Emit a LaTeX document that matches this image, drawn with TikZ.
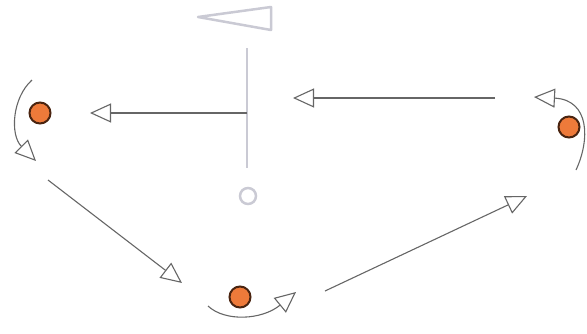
\documentclass[tikz,border=0pt]{standalone}
\usetikzlibrary{arrows.meta}
\definecolor{dotfill}{HTML}{EE7A3A}
\definecolor{dotedge}{HTML}{4A2410}
\definecolor{arr}{HTML}{666666}
\definecolor{faint}{HTML}{CACAD4}
\tikzset{
  dotnode/.style={circle, draw=dotedge, fill=dotfill, line width=2pt, minimum size=21pt, inner sep=0pt},
  conn/.style={draw=arr, line width=1.1pt, -{Triangle[open, length=21pt, width=19pt, fill=white]}},
  faintline/.style={draw=faint, line width=2.5pt},
}
\begin{document}
\begin{tikzpicture}[x=1pt,y=-1pt]
\useasboundingbox (0,0) rectangle (587,333);
% dots
\node[dotnode] (d1) at (40,113) {};
\node[dotnode] (d2) at (569,127) {};
\node[dotnode] (d3) at (240,297) {};
% faint centre symbol
\coordinate (vt) at (247,48);
\coordinate (vb) at (247,168);
\coordinate (vm) at (247,113);
\draw[faintline] (vt) -- (vb);
\node[circle, draw=faint, line width=2.5pt, minimum size=16pt, inner sep=0pt] (c0) at (248,196) {};
\coordinate (tw) at (198,17);
\coordinate (tu) at (271,7);
\coordinate (tl) at (271,30);
\draw[faint, line width=2.5pt, line join=round] (tw) -- (tu) -- (tl) -- cycle;
% horizontal connectors
\coordinate (h1s) at (247,113);
\coordinate (h1e) at (90,113);
\draw[conn] (h1s) -- (h1e);
\coordinate (h2s) at (495,98);
\coordinate (h2e) at (293,98);
\draw[conn] (h2s) -- (h2e);
% diagonals
\coordinate (g1s) at (48,180);
\coordinate (g1e) at (182,283);
\draw[conn] (g1s) -- (g1e);
\coordinate (g2s) at (325,291);
\coordinate (g2e) at (527,196);
\draw[conn] (g2s) -- (g2e);
% curved arrows
\coordinate (c1s) at (32,80);
\coordinate (c1e) at (36,161);
\draw[conn] (c1s) .. controls (12,98) and (10,135) .. (c1e);
\coordinate (c2s) at (576,170);
\coordinate (c2e) at (534,97);
\draw[conn] (c2s) .. controls (590,140) and (590,100) .. (c2e);
\coordinate (c3s) at (208,306);
\coordinate (c3e) at (296,292);
\draw[conn] (c3s) .. controls (225,322) and (262,320) .. (c3e);
\end{tikzpicture}
\end{document}
